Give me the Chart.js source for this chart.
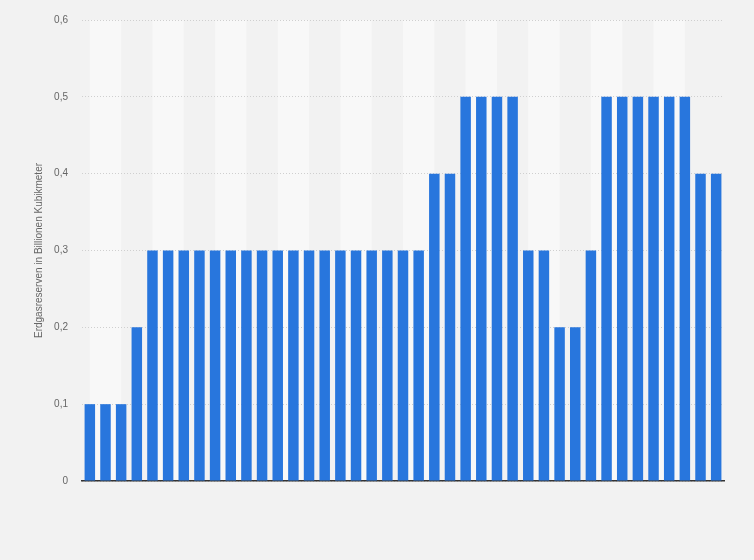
<!DOCTYPE html>
<html>
<head>
<meta charset="utf-8">
<script src="https://cdn.jsdelivr.net/npm/chart.js@4/dist/chart.umd.min.js"></script>
<style>
    html, body { margin: 0; padding: 0; background: #f2f2f2; }
    #wrap { width: 754px; height: 560px; }
</style>
</head>
<body>
<div id="wrap"><canvas id="gasChart" width="754" height="560"></canvas></div>
<script>
const years = [];
for (let y = 1980; y <= 2020; y++) years.push(String(y));

const reserves = [
    0.1, 0.1, 0.1, 0.2, 0.3, 0.3, 0.3, 0.3, 0.3, 0.3,
    0.3, 0.3, 0.3, 0.3, 0.3, 0.3, 0.3, 0.3, 0.3, 0.3,
    0.3, 0.3, 0.4, 0.4, 0.5, 0.5, 0.5, 0.5, 0.3, 0.3,
    0.2, 0.2, 0.3, 0.5, 0.5, 0.5, 0.5, 0.5, 0.5, 0.4,
    0.4
];

const yTicks = [0, 0.1, 0.2, 0.3, 0.4, 0.5, 0.6];

// light vertical bands behind the bars, two categories wide
const stripes = {
    id: 'stripes',
    beforeDraw(chart) {
        const { ctx, chartArea, scales } = chart;
        ctx.save();
        ctx.fillStyle = '#f8f8f8';
        for (let i = 0; i + 2 < years.length; i += 4) {
            const x1 = scales.x.getPixelForValue(i);
            const x2 = scales.x.getPixelForValue(i + 2);
            ctx.fillRect(x1, chartArea.top, x2 - x1, chartArea.bottom - chartArea.top);
        }
        ctx.restore();
    }
};

const ctx = document.getElementById('gasChart').getContext('2d');
new Chart(ctx, {
    type: 'bar',
    data: {
        labels: years,
        datasets: [{
            label: 'Erdgasreserven',
            data: reserves,
            backgroundColor: '#2876dd',
            borderWidth: 0,
            categoryPercentage: 1,
            barPercentage: 0.67,
        }],
    },
    options: {
        responsive: false,
        animation: false,
        layout: { padding: { left: 33, right: 30, top: 15, bottom: 79 } },
        plugins: {
            legend: { display: false },
            tooltip: { enabled: false },
        },
        scales: {
            x: {
                ticks: { display: false },
                grid: { display: false, drawTicks: false },
                border: { display: true, color: '#333333', width: 1.5 },
            },
            y: {
                min: 0,
                max: 0.6,
                afterBuildTicks(scale) {
                    scale.ticks = yTicks.map(v => ({ value: v }));
                },
                afterFit(scale) { scale.width = 49; },
                ticks: {
                    color: '#666666',
                    padding: 14,
                    font: { family: 'Liberation Sans', size: 10 },
                    callback: v => v === 0 ? '0' : v.toFixed(1).replace('.', ','),
                },
                grid: {
                    color: '#cfcfcf',
                    drawTicks: false,
                },
                border: { display: false, dash: [1, 2] },
                title: {
                    display: true,
                    text: 'Erdgasreserven in Billionen Kubikmeter',
                    color: '#666666',
                    font: { family: 'Liberation Sans', size: 10 },
                    padding: 0,
                },
            },
        },
    },
    plugins: [stripes],
});
</script>
</body>
</html>
